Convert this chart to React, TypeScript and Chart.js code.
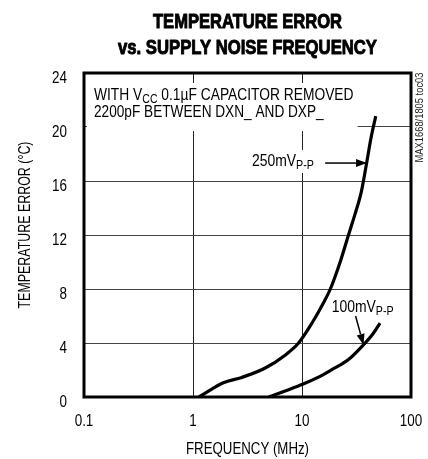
import React, { useEffect, useRef } from "react";
import { Chart, registerables } from "chart.js";

Chart.register(...registerables);

const FAMILY = "'Liberation Sans', Arial, sans-serif";

const TITLE_LINES = ["TEMPERATURE ERROR", "vs. SUPPLY NOISE FREQUENCY"];
const X_TITLE = "FREQUENCY (MHz)";
const Y_TITLE = "TEMPERATURE ERROR (°C)";
const FIG_ID = "MAX1668/1805 toc03";

const X_TICKS = [0.1, 1, 10, 100];
const X_TICK_LABELS = ["0.1", "1", "10", "100"];
const Y_MIN = 0;
const Y_MAX = 24;
const Y_STEP = 4;

// 250mVp-p series
const F_250 = [1.13, 1.5, 1.9, 2.8, 4.6, 7.0, 9.3, 12.4, 15.8, 18.2, 22.4, 26.7, 30.8, 35.0, 39.1, 43.0, 47.5];
const T_250 = [0, 0.6, 1.05, 1.45, 2.15, 3.1, 4.0, 5.5, 7.0, 8.0, 10.0, 12.0, 13.6, 15.2, 17.3, 19.2, 20.8];

// 100mVp-p series
const F_100 = [4.96, 7.0, 10, 14, 18.8, 26.7, 36.7, 45, 52];
const T_100 = [0, 0.45, 0.92, 1.45, 2.03, 2.77, 3.87, 4.7, 5.47];

const SERIES_NAMES = ["250mV", "100mV"];
const SERIES_SUB = "P-P";

const NOTE_LINE1 = [
  { t: "WITH V", sub: false },
  { t: "CC", sub: true },
  { t: " 0.1µF CAPACITOR REMOVED", sub: false },
];
const NOTE_LINE2 = [{ t: "2200pF BETWEEN DXN_ AND DXP_", sub: false }];

type Part = { t: string; sub: boolean };

const NARROW = 0.82;

function partsWidth(ctx: CanvasRenderingContext2D, parts: Part[], size: number) {
  let w = 0;
  for (const p of parts) {
    const s = p.sub ? Math.round(size * 0.78) : size;
    ctx.font = `${s}px ${FAMILY}`;
    w += ctx.measureText(p.t).width;
  }
  return w;
}

function drawParts(
  ctx: CanvasRenderingContext2D,
  parts: Part[],
  x: number,
  y: number,
  size: number,
  sx: number,
  endX?: number
) {
  ctx.save();
  if (endX !== undefined) sx = (endX - x) / partsWidth(ctx, parts, size);
  ctx.translate(x, y);
  ctx.scale(sx, 1);
  let cx = 0;
  for (const p of parts) {
    const s = p.sub ? Math.round(size * 0.78) : size;
    ctx.font = `${s}px ${FAMILY}`;
    ctx.textBaseline = "alphabetic";
    ctx.textAlign = "left";
    ctx.fillText(p.t, cx, p.sub ? 3 : 0);
    cx += ctx.measureText(p.t).width;
  }
  ctx.restore();
}

function drawText(
  ctx: CanvasRenderingContext2D,
  text: string,
  x: number,
  y: number,
  font: string,
  sx: number,
  align: CanvasTextAlign,
  rot = 0,
  stroke = 0,
  fitWidth = 0
) {
  ctx.save();
  ctx.font = font;
  if (fitWidth) sx = fitWidth / ctx.measureText(text).width;
  ctx.translate(x, y);
  if (rot) ctx.rotate(rot);
  ctx.scale(sx, 1);
  ctx.textAlign = align;
  ctx.textBaseline = "alphabetic";
  ctx.fillText(text, 0, 0);
  if (stroke) {
    ctx.lineWidth = stroke;
    ctx.strokeStyle = ctx.fillStyle as string;
    ctx.lineJoin = "round";
    ctx.strokeText(text, 0, 0);
  }
  ctx.restore();
}

function arrow(ctx: CanvasRenderingContext2D, x1: number, y1: number, x2: number, y2: number) {
  const ang = Math.atan2(y2 - y1, x2 - x1);
  const len = 11;
  const hw = 4;
  ctx.beginPath();
  ctx.moveTo(x1, y1);
  ctx.lineTo(x2 - Math.cos(ang) * len, y2 - Math.sin(ang) * len);
  ctx.lineWidth = 1.5;
  ctx.strokeStyle = "#000";
  ctx.stroke();
  ctx.beginPath();
  ctx.moveTo(x2, y2);
  ctx.lineTo(x2 - Math.cos(ang) * len - Math.sin(ang) * hw, y2 - Math.sin(ang) * len + Math.cos(ang) * hw);
  ctx.lineTo(x2 - Math.cos(ang) * len + Math.sin(ang) * hw, y2 - Math.sin(ang) * len - Math.cos(ang) * hw);
  ctx.closePath();
  ctx.fillStyle = "#000";
  ctx.fill();
}

const annotPlugin = {
  id: "annot",
  beforeDatasetsDraw(chart: any) {
    const { ctx, scales } = chart;
    const x = scales.x;
    const y = scales.y;
    const px = (v: number) => x.getPixelForValue(v);
    const py = (v: number) => y.getPixelForValue(v);
    ctx.save();
    ctx.fillStyle = "#fff";
    // note box mask
    ctx.fillRect(px(0.1065), py(23.26), px(32.3) - px(0.1065), py(19.7) - py(23.26));
    // 250mV label mask
    ctx.fillRect(px(3.25), py(18.3), px(14.8) - px(3.25), py(16.6) - py(18.3));
    ctx.fillStyle = "#000";
    drawParts(ctx, NOTE_LINE1, px(0.1235), py(22.0), 17, NARROW, px(29.7));
    drawParts(ctx, NOTE_LINE2, px(0.1235), py(20.74), 17, NARROW, px(15.8));
    drawParts(ctx, [{ t: SERIES_NAMES[0], sub: false }, { t: SERIES_SUB, sub: true }], px(3.47), py(17.1), 17, NARROW);
    drawParts(ctx, [{ t: SERIES_NAMES[1], sub: false }, { t: SERIES_SUB, sub: true }], px(18.7), py(6.3), 17, NARROW);
    ctx.restore();
  },
  afterDatasetsDraw(chart: any) {
    const { ctx, chartArea, scales } = chart;
    const x = scales.x;
    const y = scales.y;
    const px = (v: number) => x.getPixelForValue(v);
    const py = (v: number) => y.getPixelForValue(v);
    ctx.save();
    arrow(ctx, px(16.3), py(17.33), px(39.5), py(17.33));
    arrow(ctx, px(31), py(6.0), px(36.7), py(3.85));
    ctx.lineWidth = 3;
    ctx.strokeStyle = "#000";
    ctx.strokeRect(chartArea.left, chartArea.top, chartArea.right - chartArea.left, chartArea.bottom - chartArea.top);
    ctx.fillStyle = "#000";
    // tick labels
    x.ticks.forEach((t: any, i: number) => {
      drawText(ctx, X_TICK_LABELS[i], x.getPixelForValue(t.value), chartArea.bottom + 29, `16px ${FAMILY}`, 0.84, "center");
    });
    y.ticks.forEach((t: any) => {
      drawText(ctx, String(t.value), chartArea.left - 17, y.getPixelForValue(t.value) + 10, `16px ${FAMILY}`, 0.84, "right");
    });
    // title
    const cx = (chartArea.left + chartArea.right) / 2;
    drawText(ctx, TITLE_LINES[0], cx, 27.5, `bold 21px ${FAMILY}`, 0.79, "center", 0, 1.0, 189);
    drawText(ctx, TITLE_LINES[1], cx, 53.5, `bold 21px ${FAMILY}`, 0.79, "center", 0, 1.0, 259);
    // axis titles
    drawText(ctx, X_TITLE, cx, chartArea.bottom + 57, `16px ${FAMILY}`, 0.84, "center", 0, 0, 123);
    drawText(ctx, Y_TITLE, 30, 225, `16px ${FAMILY}`, 0.77, "center", -Math.PI / 2, 0, 167);
    // figure id
    ctx.fillStyle = "#222";
    drawText(ctx, FIG_ID, 423, 117.5, `11px ${FAMILY}`, 0.85, "center", -Math.PI / 2);
    ctx.restore();
  },
};

export default function App() {
  const ref = useRef<HTMLCanvasElement | null>(null);
  useEffect(() => {
    if (!ref.current) return;
    Chart.defaults.font.family = FAMILY;
    Chart.defaults.color = "#000";
    const chart = new Chart(ref.current, {
      type: "scatter",
      data: {
        datasets: [
          {
            label: SERIES_NAMES[0],
            data: F_250.map((f, i) => ({ x: f, y: T_250[i] })),
            showLine: true,
            borderColor: "#000",
            borderWidth: 3.2,
            pointRadius: 0,
            cubicInterpolationMode: "monotone",
          },
          {
            label: SERIES_NAMES[1],
            data: F_100.map((f, i) => ({ x: f, y: T_100[i] })),
            showLine: true,
            borderColor: "#000",
            borderWidth: 3.2,
            pointRadius: 0,
            cubicInterpolationMode: "monotone",
          },
        ],
      },
      options: {
        animation: false,
        responsive: false,
        devicePixelRatio: 1,
        layout: { padding: { top: 73, right: 17, left: 0, bottom: 0 } },
        plugins: { legend: { display: false }, tooltip: { enabled: false }, title: { display: false } },
        scales: {
          x: {
            type: "logarithmic",
            min: 0.1,
            max: 100,
            afterBuildTicks: (scale: any) => {
              scale.ticks = X_TICKS.map((v) => ({ value: v }));
            },
            afterFit: (scale: any) => {
              scale.height = 62;
            },
            ticks: { display: false },
            grid: { color: "#222", lineWidth: 1, drawTicks: false },
            border: { display: false },
          },
          y: {
            type: "linear",
            min: Y_MIN,
            max: Y_MAX,
            afterFit: (scale: any) => {
              scale.width = 84;
            },
            ticks: { stepSize: Y_STEP, display: false },
            grid: { color: "#444", lineWidth: 1, drawTicks: false },
            border: { display: false },
          },
        },
      },
      plugins: [annotPlugin],
    });
    return () => chart.destroy();
  }, []);
  return (
    <div style={{ position: "fixed", left: 0, top: 0, width: 428, height: 459, background: "#fff" }}>
      <canvas ref={ref} width={428} height={459} />
    </div>
  );
}
